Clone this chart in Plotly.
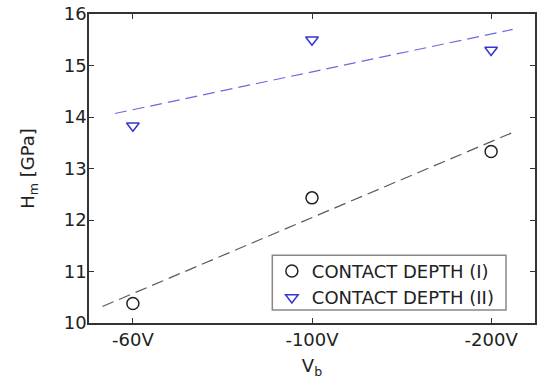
import numpy as np
import plotly.graph_objects as go

# Bias voltage categories and measured hardness values
bias_labels = ["-60V", "-100V", "-200V"]
bias_pos = [1, 2, 3]
hm_depth_1 = [10.38, 12.43, 13.33]
hm_depth_2 = [13.83, 15.50, 15.30]

# Linear fits drawn as dashed trend lines over the data span
fit_x1 = np.array([0.83, 3.12])
fit_x2 = np.array([0.90, 3.12])
c1 = np.polyfit(bias_pos, hm_depth_1, 1)
c2 = np.polyfit(bias_pos, hm_depth_2, 1)

FONT = "DejaVu Sans, Verdana, sans-serif"
FS = 18

fig = go.Figure()
fig.add_trace(go.Scatter(
    x=fit_x1, y=np.polyval(c1, fit_x1), mode="lines",
    line=dict(color="#5a5a5a", width=1.2, dash="12px,6px"),
    showlegend=False, hoverinfo="skip"))
fig.add_trace(go.Scatter(
    x=fit_x2, y=np.polyval(c2, fit_x2), mode="lines",
    line=dict(color="#6a6ae0", width=1.2, dash="12px,6px"),
    showlegend=False, hoverinfo="skip"))
fig.add_trace(go.Scatter(
    x=bias_pos, y=hm_depth_1, mode="markers", name="CONTACT DEPTH (I)",
    marker=dict(symbol="circle-open", size=12, color="#222222",
                line=dict(width=1.5))))
fig.add_trace(go.Scatter(
    x=bias_pos, y=hm_depth_2, mode="markers", name="CONTACT DEPTH (II)",
    marker=dict(symbol="triangle-down-open", size=11, color="#3535d0",
                line=dict(width=1.5))))

axis_common = dict(
    showline=True, linecolor="#333333", linewidth=1.5, mirror="ticks",
    ticks="inside", ticklen=5, tickcolor="#333333", tickwidth=1,
    showgrid=False, zeroline=False,
    tickfont=dict(family=FONT, size=FS, color="#222222"),
)

# Legend frame drawn as a boxed panel behind the legend entries
fig.add_shape(type="rect", xref="paper", yref="paper",
              x0=0.411, x1=0.935, y0=0.042, y1=0.219,
              line=dict(color="#888888", width=1.5), fillcolor="white",
              layer="above")

fig.update_layout(
    width=540, height=389,
    margin=dict(l=89, r=3, t=13, b=66),
    paper_bgcolor="white", plot_bgcolor="white",
    font=dict(family=FONT, color="#222222"),
    xaxis=dict(range=[0.755, 3.245], tickvals=bias_pos, ticktext=bias_labels,
               title=dict(text="V<sub>b</sub>", font=dict(family=FONT, size=FS),
                          standoff=10),
               **axis_common),
    yaxis=dict(range=[10, 16], dtick=1, ticklabelstandoff=-3,
               title=dict(text="H<sub>m</sub> [GPa]", font=dict(family=FONT, size=FS),
                          standoff=24),
               **axis_common),
    legend=dict(x=0.41, y=0.227, xanchor="left", yanchor="top",
                bgcolor="rgba(0,0,0,0)", borderwidth=0,
                font=dict(family=FONT, size=FS, color="#222222"),
                itemwidth=30, tracegroupgap=0),
    showlegend=True,
)

fig.write_html("out.html")
